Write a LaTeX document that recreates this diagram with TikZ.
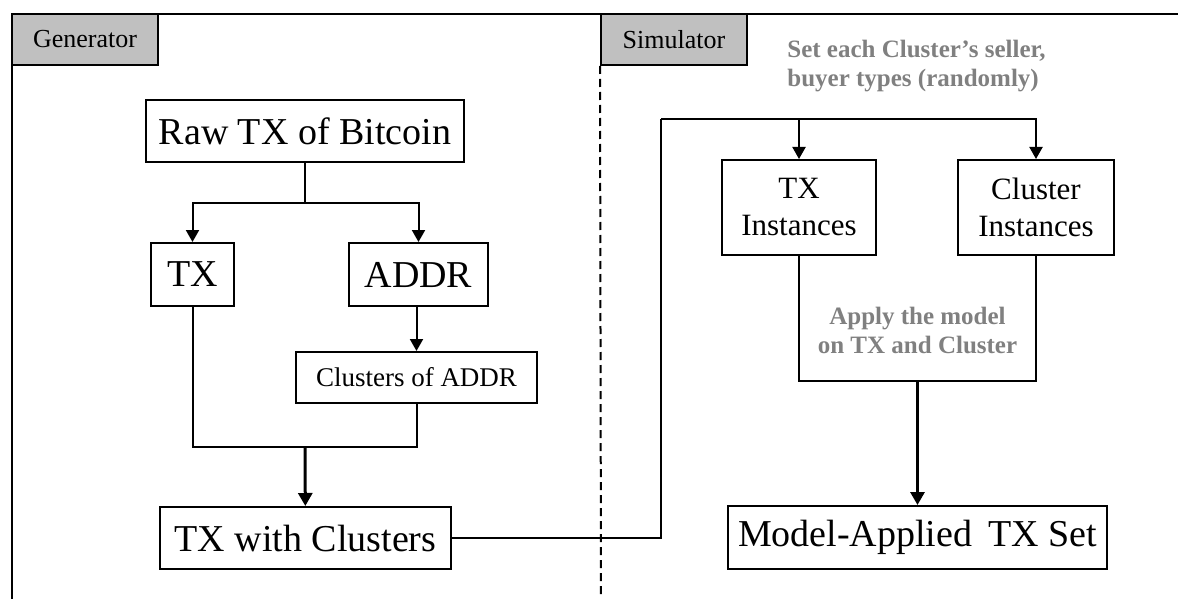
\documentclass[tikz,border=0pt]{standalone}
\usepackage{fontspec}
\setmainfont{Liberation Serif}
\usepackage{xcolor}
\usepackage{tikz}
\usetikzlibrary{arrows.meta,positioning,calc}

\definecolor{tabgray}{HTML}{C0C0C0}
\definecolor{notegray}{HTML}{808080}

\begin{document}
\begin{tikzpicture}[
    x=0.5pt, y=-0.5pt,
    tab/.style={rectangle, draw=black, fill=tabgray, line width=1pt, inner sep=0pt, minimum width=73pt, minimum height=25.5pt, font=\fontsize{13}{15}\selectfont},
    blk/.style={rectangle, draw=black, fill=white, line width=1pt, inner sep=0pt, align=center, font=\fontsize{19}{22}\selectfont},
    blks/.style={blk, font=\fontsize{15.5}{18.5}\selectfont},
    note/.style={text=notegray, inner sep=0pt, font=\bfseries\fontsize{12.5}{14.5}\selectfont},
    arr/.style={-{Triangle[length=6pt,width=6.5pt]}, line width=1pt},
    arrb/.style={-{Triangle[length=6.5pt,width=7pt]}, line width=1.5pt},
    ln/.style={line width=1pt}
]
    \useasboundingbox (0,0) rectangle (1178,599);

    % frame and the two columns
    \draw [ln] (12,599) -- (12,14) -- (1178,14);
    \node [tab] (gen) at (85,39.5) {Generator};
    \node [tab] (sim) at (674,39.5) {Simulator};
    \draw [ln, dash pattern=on 4pt off 2.5pt] (sim.south west) -- (601,599);

    % generator side
    \node [blk, minimum width=159pt, minimum height=31pt] (raw) at (305,131) {Raw TX of Bitcoin};
    \node [blk, minimum width=41.5pt, minimum height=31.5pt] (tx) at (192.5,274.5) {TX};
    \node [blk, minimum width=69.5pt, minimum height=31.5pt] (addr) at (418.5,274.5) {ADDR};
    \node [blk, font=\fontsize{13.5}{16}\selectfont, minimum width=120.5pt, minimum height=25.5pt] (clus) at (416.5,377.5) {Clusters of ADDR};
    \node [blk, minimum width=145.5pt, minimum height=31pt] (txc) at (305.5,538) {TX with Clusters};

    \coordinate (split) at (305,203);
    \coordinate (join) at (305,447);
    \draw [ln] (raw) -- (split);
    \draw [arr] (split) -| (tx);
    \draw [arr] (split) -| (addr);
    \draw [arr] (addr.south -| clus.north) -- (clus.north);
    \draw [ln] (tx) |- (join) -| (clus);
    \draw [arrb] (join) -- (txc);

    % simulator side
    \node [blks, minimum width=77pt, minimum height=47.5pt] (txi) at (799,207.5) {TX\\Instances};
    \node [blks, minimum width=78pt, minimum height=47.5pt] (cli) at (1036,207.5) {Cluster\\Instances};
    \node [blk, minimum width=189.5pt, minimum height=31.5pt] (mat) at (917.5,537.5) {Model-Applied\, TX Set};

    \node [note, align=left, anchor=west] (setnote) at (787,66) {Set each Cluster’s seller,\\buyer types (randomly)};
    \node [note, align=center] (applynote) at (917.5,330) {Apply the model\\on TX and Cluster};

    \coordinate (feed) at (661,119);
    \coordinate (merge) at (917.5,381);
    \draw [ln] (txc) -| (feed);
    \draw [arr] (feed) -| (txi);
    \draw [arr] (feed) -| (cli);
    \draw [ln] (txi) |- (merge) -| (cli);
    \draw [arrb] (merge) -- (mat);
\end{tikzpicture}
\end{document}
